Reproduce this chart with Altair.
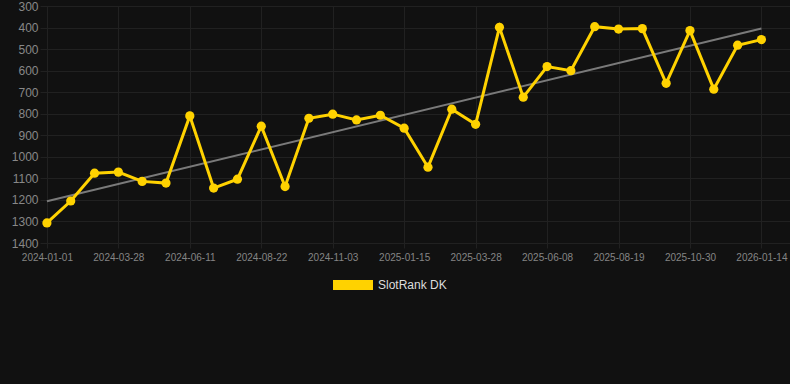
import altair as alt
import pandas as pd

# Data
ranks = [1307, 1205, 1076, 1071, 1114, 1122, 810, 1145, 1104, 858, 1138,
         821, 802, 829, 807, 867, 1048, 779, 849, 399, 723, 581, 600, 396,
         407, 405, 659, 414, 686, 482, 456]
tick_labels = ["2024-01-01", "2024-03-28", "2024-06-11", "2024-08-22",
               "2024-11-03", "2025-01-15", "2025-03-28", "2025-06-08",
               "2025-08-19", "2025-10-30", "2026-01-14"]
series_name = "SlotRank DK"
y_ticks = list(range(300, 1401, 100))

df = pd.DataFrame({
    "idx": list(range(len(ranks))),
    "rank": ranks,
    "series": [series_name] * len(ranks),
})

label_array = "[" + ",".join("'%s'" % s for s in tick_labels) + "]"
tick_idx = [i * 3 for i in range(len(tick_labels))]

YELLOW = "#FFD200"
GRID = "#212121"

x_enc = alt.X(
    "idx:Q",
    scale=alt.Scale(domain=[-0.29, 31.2], nice=False, zero=False),
    axis=alt.Axis(values=tick_idx, labelExpr=label_array + "[round(datum.value/3)]",
                  title=None, grid=True, gridColor=GRID, domain=False,
                  tickColor=GRID, tickSize=5, labelColor="#858585",
                  labelFontSize=10, labelPadding=4, labelFont="Liberation Sans"),
)
y_enc = alt.Y(
    "rank:Q",
    scale=alt.Scale(domain=[300, 1400], reverse=True, nice=False, zero=False),
    axis=alt.Axis(values=y_ticks, format="d", title=None, grid=True, gridColor=GRID,
                  domain=False, ticks=False, labelColor="#888888",
                  labelFontSize=12, labelPadding=2, labelFont="Liberation Sans"),
)

base = alt.Chart(df)

trend = base.transform_regression("idx", "rank").mark_line(
    color="#7a7a7a", strokeWidth=2
).encode(x=x_enc, y=y_enc)

line = base.mark_line(color=YELLOW, strokeWidth=3).encode(x=x_enc, y=y_enc)

points = base.mark_point(filled=True, size=85, opacity=1).encode(
    x=x_enc, y=y_enc,
    color=alt.Color("series:N",
                    scale=alt.Scale(domain=[series_name], range=[YELLOW]),
                    legend=alt.Legend(
                        title=None, orient="none", legendX=293, legendY=259,
                        symbolType="M-1,-0.25L1,-0.25L1,0.25L-1,0.25Z",
                        symbolSize=1600, symbolStrokeWidth=0,
                        labelColor="#dddddd", labelFontSize=12,
                        labelFont="Liberation Sans", labelOffset=5,
                        padding=0, symbolOpacity=1)),
)

chart = alt.layer(trend, line, points).properties(
    width=750, height=237,
    background="#111111",
    padding={"left": 40, "top": 6, "right": 0, "bottom": 141},
    autosize=alt.AutoSizeParams(type="none"),
).configure_view(stroke=None)

chart.save("out.html", embed_options={"renderer": "svg", "actions": False})
